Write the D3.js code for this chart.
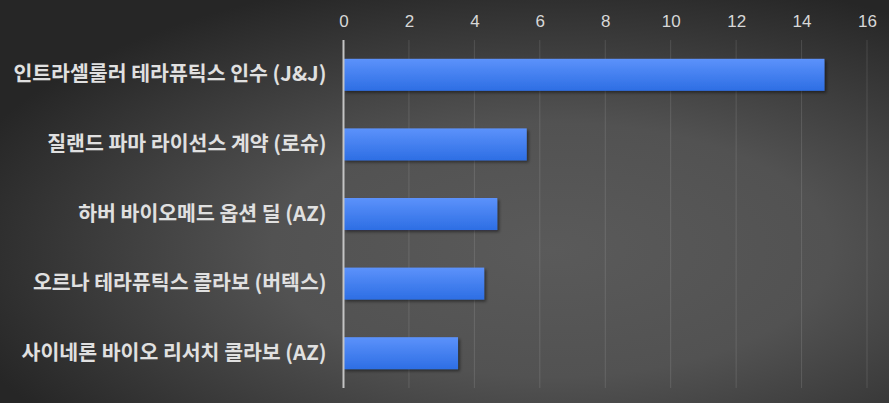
<!DOCTYPE html>
<html>
<head>
<meta charset="utf-8">
<script src="https://cdn.jsdelivr.net/npm/d3@7"></script>
<style>
  html, body { margin: 0; padding: 0; background: #3a3a3a; overflow: hidden; }
</style>
</head>
<body>
<div id="chart"></div>
<script>
const categories = [
    "인트라셀룰러 테라퓨틱스 인수 (J&J)",
    "질랜드 파마 라이선스 계약 (로슈)",
    "하버 바이오메드 옵션 딜 (AZ)",
    "오르나 테라퓨틱스 콜라보 (버텍스)",
    "사이네론 바이오 리서치 콜라보 (AZ)"
];
const values = [14.7, 5.6, 4.7, 4.3, 3.5];
const tickValues = [0, 2, 4, 6, 8, 10, 12, 14, 16];

const svgWidth = 889;
const svgHeight = 403;
const margin = { top: 40, right: 22, bottom: 15, left: 343.5 };
const width = svgWidth - margin.left - margin.right;
const height = svgHeight - margin.top - margin.bottom;

const svg = d3.select("#chart")
    .append("svg")
    .attr("width", svgWidth)
    .attr("height", svgHeight);

const defs = svg.append("defs");

// Background radial gradient
const bg = defs.append("radialGradient")
    .attr("id", "bgGrad")
    .attr("cx", "62%").attr("cy", "62%")
    .attr("r", "70%");
bg.append("stop").attr("offset", "0%").attr("stop-color", "#5a5a5a");
bg.append("stop").attr("offset", "45%").attr("stop-color", "#525252");
bg.append("stop").attr("offset", "100%").attr("stop-color", "#262626");

// Bar gradient
const barGrad = defs.append("linearGradient")
    .attr("id", "barGrad")
    .attr("x1", 0).attr("y1", 0).attr("x2", 0).attr("y2", 1);
barGrad.append("stop").attr("offset", "0%").attr("stop-color", "#5c92fb");
barGrad.append("stop").attr("offset", "100%").attr("stop-color", "#2d6ee4");

// Bar shadow
const shadow = defs.append("filter")
    .attr("id", "shadow")
    .attr("x", "-5%").attr("y", "-30%")
    .attr("width", "115%").attr("height", "170%");
shadow.append("feDropShadow")
    .attr("dx", 2).attr("dy", 2)
    .attr("stdDeviation", 1.5)
    .attr("flood-color", "#000")
    .attr("flood-opacity", 0.45);

svg.append("rect")
    .attr("width", svgWidth)
    .attr("height", svgHeight)
    .attr("fill", "url(#bgGrad)");

const g = svg.append("g")
    .attr("transform", `translate(${margin.left},${margin.top})`);

// Scales
const xScale = d3.scaleLinear().domain([0, 16]).range([0, 523.5]);
const yScale = d3.scaleBand()
    .domain(categories)
    .range([0, height])
    .paddingInner(0.54)
    .paddingOuter(0.27);

// Gridlines
g.selectAll(".grid")
    .data(tickValues.filter(d => d !== 0))
    .enter()
    .append("line")
    .attr("x1", d => xScale(d))
    .attr("x2", d => xScale(d))
    .attr("y1", 0)
    .attr("y2", height)
    .attr("stroke", "#ffffff")
    .attr("stroke-opacity", 0.12)
    .attr("stroke-width", 1);

// Top axis labels
const xAxis = g.append("g")
    .call(d3.axisTop(xScale).tickValues(tickValues).tickSize(0).tickPadding(13));
xAxis.select(".domain").remove();
xAxis.selectAll("text")
    .attr("fill", "#d8d8d8")
    .attr("font-family", "Arial, 'Liberation Sans', sans-serif")
    .attr("font-size", "17px");

// Bars
g.selectAll(".bar")
    .data(values)
    .enter()
    .append("rect")
    .attr("class", "bar")
    .attr("x", 0)
    .attr("y", (d, i) => yScale(categories[i]))
    .attr("width", d => xScale(d))
    .attr("height", yScale.bandwidth())
    .attr("fill", "url(#barGrad)")
    .attr("filter", "url(#shadow)");

// Zero line
g.append("line")
    .attr("x1", xScale(0)).attr("x2", xScale(0))
    .attr("y1", 0).attr("y2", height)
    .attr("stroke", "#c4c4c4")
    .attr("stroke-width", 2);

// Category labels
const yAxis = g.append("g")
    .call(d3.axisLeft(yScale).tickSize(0).tickPadding(17));
yAxis.select(".domain").remove();
yAxis.selectAll("text")
    .attr("fill", "#e0e0e0")
    .attr("font-family", "'Noto Sans CJK KR', sans-serif")
    .attr("font-weight", "bold")
    .attr("font-size", "20.5px");
</script>
</body>
</html>
